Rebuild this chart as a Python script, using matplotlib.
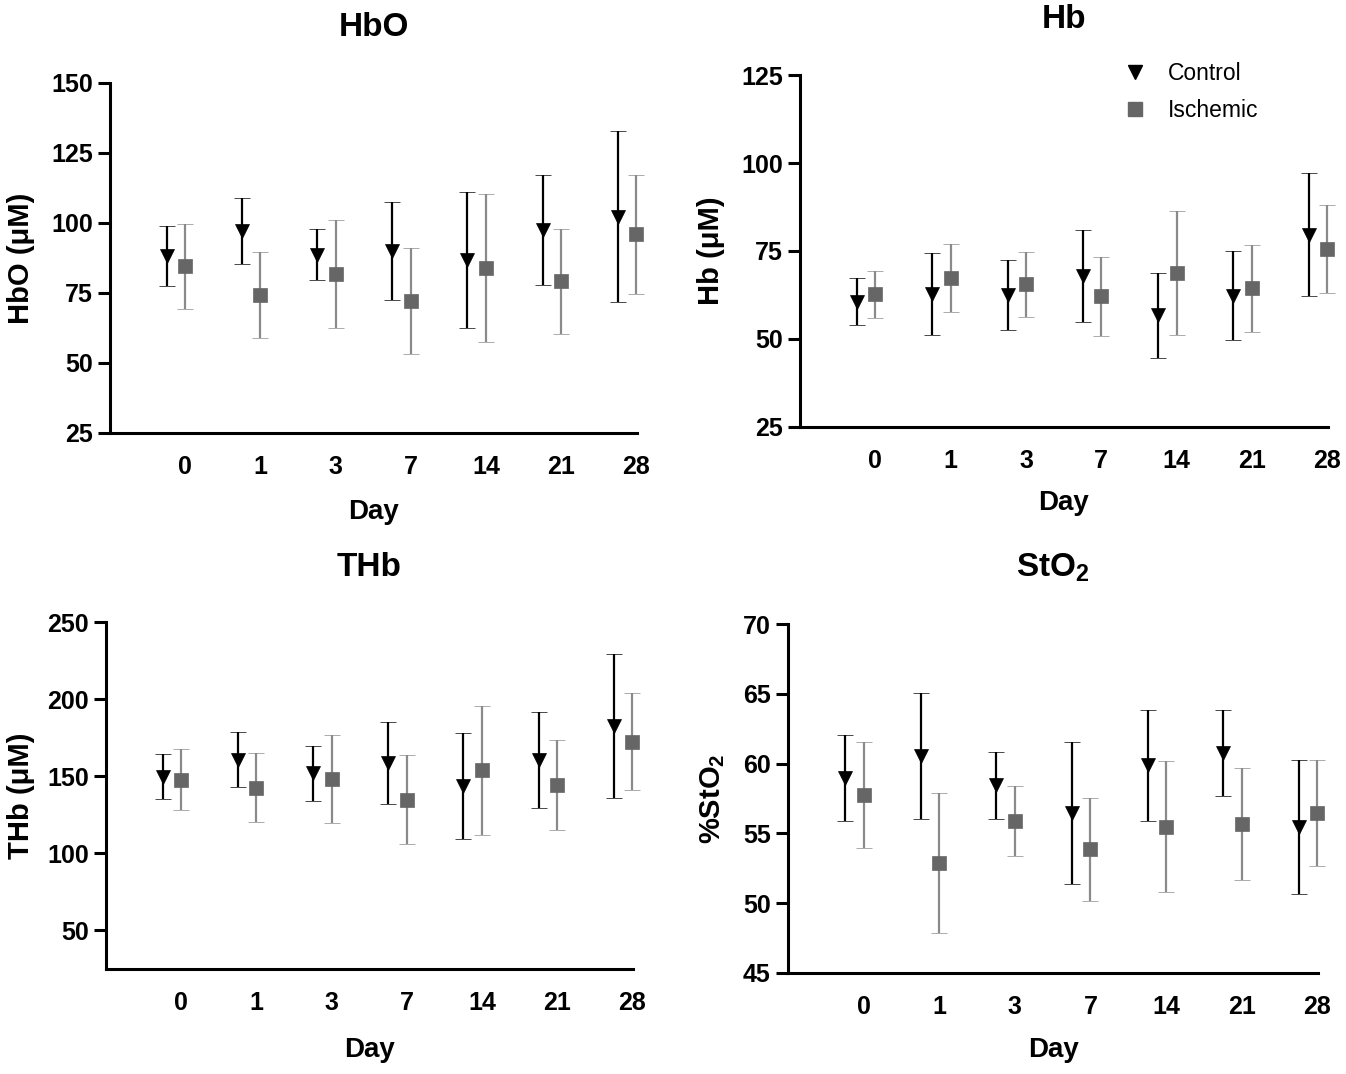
import matplotlib
matplotlib.use("Agg")
import matplotlib.pyplot as plt
from matplotlib.lines import Line2D
import numpy as np

plt.rcParams['font.family'] = ['Liberation Sans', 'DejaVu Sans']
plt.rcParams['mathtext.default'] = 'regular'

days = ['0', '1', '3', '7', '14', '21', '28']

# HbO (uM)
hbo_ctrl = [88.1, 97.1, 88.7, 89.9, 86.7, 97.6, 102.3]
hbo_ctrl_sd = [10.7, 11.9, 9.2, 17.5, 24.2, 19.7, 30.6]
hbo_isch = [84.5, 74.3, 81.8, 72.0, 84.0, 79.2, 96.0]
hbo_isch_sd = [15.3, 15.5, 19.3, 18.9, 26.4, 18.8, 21.3]

# Hb (uM)
hb_ctrl = [60.6, 62.8, 62.5, 68.0, 56.7, 62.3, 79.6]
hb_ctrl_sd = [6.6, 11.7, 10.0, 13.1, 12.1, 12.6, 17.5]
hb_isch = [62.7, 67.4, 65.5, 62.1, 68.8, 64.4, 75.6]
hb_isch_sd = [6.7, 9.6, 9.3, 11.2, 17.7, 12.3, 12.4]

# THb (uM)
thb_ctrl = [149.7, 160.6, 151.9, 158.6, 143.8, 160.8, 182.7]
thb_ctrl_sd = [14.4, 17.8, 18.0, 26.8, 34.5, 31.1, 46.8]
thb_isch = [147.8, 142.5, 148.4, 134.9, 153.8, 144.4, 172.3]
thb_isch_sd = [19.9, 22.5, 28.6, 29.1, 41.9, 29.1, 31.4]

# StO2 (%)
sto2_ctrl = [58.97, 60.53, 58.45, 56.47, 59.88, 60.76, 55.47]
sto2_ctrl_sd = [3.06, 4.5, 2.39, 5.07, 3.98, 3.1, 4.78]
sto2_isch = [57.76, 52.9, 55.87, 53.86, 55.47, 55.66, 56.47]
sto2_isch_sd = [3.79, 5.0, 2.5, 3.67, 4.69, 4.0, 3.78]

W, H = 1346, 1074
fig = plt.figure(figsize=(W / 100, H / 100), dpi=100)

def px_axes(l, t, r, b):
    return fig.add_axes([l / W, 1 - b / H, (r - l) / W, (b - t) / H])

CTRL_C = 'black'
ISCH_M = '#666666'
ISCH_E = '#8a8a8a'

panels = [
    dict(box=(110, 83, 637, 433), ctrl=hbo_ctrl, csd=hbo_ctrl_sd, isch=hbo_isch, isd=hbo_isch_sd,
         ylim=(25, 150), yticks=[25, 50, 75, 100, 125, 150], title='HbO', ylabel='HbO (\u03bcM)',
         title_y=28, ylabel_x=21, day_y=512),
    dict(box=(800, 75, 1328, 427), ctrl=hb_ctrl, csd=hb_ctrl_sd, isch=hb_isch, isd=hb_isch_sd,
         ylim=(25, 125), yticks=[25, 50, 75, 100, 125], title='Hb', ylabel='Hb (\u03bcM)',
         title_y=19, ylabel_x=711, day_y=503),
    dict(box=(106, 622, 633, 969), ctrl=thb_ctrl, csd=thb_ctrl_sd, isch=thb_isch, isd=thb_isch_sd,
         ylim=(25, 250), yticks=[50, 100, 150, 200, 250], title='THb', ylabel='THb (\u03bcM)',
         title_y=568, ylabel_x=21, day_y=1050),
    dict(box=(788, 624, 1318, 973), ctrl=sto2_ctrl, csd=sto2_ctrl_sd, isch=sto2_isch, isd=sto2_isch_sd,
         ylim=(45, 70), yticks=[45, 50, 55, 60, 65, 70], title='StO$_2$', ylabel='%StO$_2$',
         title_y=568, ylabel_x=713, day_y=1050),
]

x = np.arange(len(days))
axes = []
for p in panels:
    l, t, r, b = p['box']
    ax = px_axes(l, t, r, b)
    axes.append(ax)
    ec = ax.errorbar(x - 0.245, p['ctrl'], yerr=p['csd'], fmt='v', color=CTRL_C, ecolor=CTRL_C,
                     ms=10.5, mew=0.5, elinewidth=1.6, capsize=5.5, capthick=1.6, zorder=3)
    ei = ax.errorbar(x, p['isch'], yerr=p['isd'], fmt='s', color=ISCH_M, mec=ISCH_M, ecolor=ISCH_E,
                     ms=10.5, mew=0.5, elinewidth=1.6, capsize=5.5, capthick=1.6, zorder=3)
    for cont in (ec, ei):
        for art in cont.get_children():
            art.set_clip_on(False)
    ax.set_xlim(-1, 6.01)
    ax.set_ylim(*p['ylim'])
    ax.set_yticks(p['yticks'])
    ax.set_xticks(x)
    ax.set_xticklabels(days)
    for s in ['top', 'right']:
        ax.spines[s].set_visible(False)
    for s in ['left', 'bottom']:
        ax.spines[s].set_linewidth(2.2)
        ax.spines[s].set_capstyle('projecting')
    ax.tick_params(axis='y', length=8.5, width=2.2, pad=4, labelsize=18)
    ax.tick_params(axis='x', length=0, pad=16, labelsize=18)
    for lab in ax.get_xticklabels() + ax.get_yticklabels():
        lab.set_fontweight('bold')
    cx = (l + r) / 2
    fig.text(cx / W, 1 - p['title_y'] / H, p['title'], ha='center', va='center',
             fontsize=24, fontweight='bold')
    fig.text(p['ylabel_x'] / W, 1 - ((t + b) / 2) / H, p['ylabel'], ha='center', va='center',
             rotation=90, fontsize=21, fontweight='bold')
    fig.text(cx / W, 1 - p['day_y'] / H, 'Day', ha='center', va='center',
             fontsize=20, fontweight='bold')

handles = [
    Line2D([], [], ls='none', marker='v', color=CTRL_C, ms=9.5),
    Line2D([], [], ls='none', marker='s', color=ISCH_M, ms=9.5),
]
fig.legend(handles, ['Control', 'Ischemic'], loc='upper left',
           bbox_to_anchor=(1124 / W, 1 - 62 / H), frameon=False, fontsize=16.5,
           handlelength=1.0, handletextpad=0.9, labelspacing=0.62,
           borderpad=0, borderaxespad=0)

fig.savefig('out.png', dpi=100)
